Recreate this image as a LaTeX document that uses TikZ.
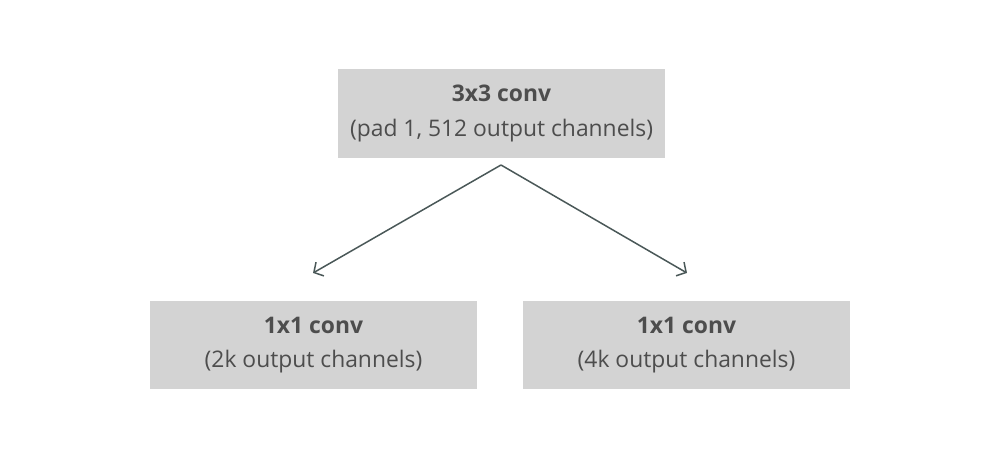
\documentclass[tikz,border=0pt]{standalone}
\usepackage{fontspec}
\setmainfont{Open Sans}
\usetikzlibrary{arrows.meta}

\definecolor{boxgray}{HTML}{D3D3D3}
\definecolor{textgray}{HTML}{4D4D4D}
\definecolor{arrowgray}{HTML}{4A5858}

\tikzset{
  convbox/.style={fill=boxgray, draw=none, minimum width=6.54cm, minimum height=1.77cm,
    align=center, text=textgray, font=\fontsize{13}{19.5}\selectfont},
  flow/.style={draw=arrowgray, line width=0.85pt, -{Straight Barb[length=4pt,width=9pt]}}
}

\begin{document}
\begin{tikzpicture}
\useasboundingbox (0,0) rectangle (20,9.18);

% Boxes
\node[convbox] (conv3) at (10.03,6.91) {\textbf{3x3 conv}\\(pad 1, 512 output channels)};
\node[convbox] (convA) at (6.27,2.28) {\textbf{1x1 conv}\\(2k output channels)};
\node[convbox] (convB) at (13.73,2.28) {\textbf{1x1 conv}\\(4k output channels)};

% Arrows
\coordinate (split) at (10.02,5.88);
\coordinate (tipA) at (6.26,3.72);
\coordinate (tipB) at (13.74,3.72);
\draw[flow] (split) -- (tipA);
\draw[flow] (split) -- (tipB);
\end{tikzpicture}
\end{document}
